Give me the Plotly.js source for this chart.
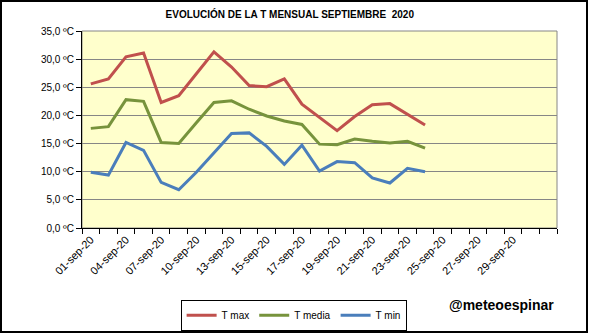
<!DOCTYPE html>
<html>
<head>
<meta charset="utf-8">
<script src="https://cdn.plot.ly/plotly-3.0.1.min.js"></script>
<style>
html,body{margin:0;padding:0;background:#fff;}
#wrap{position:relative;width:589px;height:333px;}
#chart{width:589px;height:333px;}
#frame{position:absolute;left:0;top:0;width:588px;height:333px;box-sizing:border-box;border:2px solid #000;pointer-events:none;}
</style>
</head>
<body>
<div id="wrap"><div id="chart"></div><div id="frame"></div></div>
<script>
// Categories (27 slots on the Excel category axis)
const categories = [
  "01-sep-20","02-sep-20","04-sep-20","05-sep-20","07-sep-20","08-sep-20",
  "10-sep-20","11-sep-20","13-sep-20","14-sep-20","15-sep-20","16-sep-20",
  "17-sep-20","18-sep-20","19-sep-20","20-sep-20","21-sep-20","22-sep-20",
  "23-sep-20","24-sep-20","25-sep-20","26-sep-20","27-sep-20","28-sep-20",
  "29-sep-20","30-sep-20","01-oct-20"
];
const tickLabels = ["01-sep-20","04-sep-20","07-sep-20","10-sep-20","13-sep-20","15-sep-20",
  "17-sep-20","19-sep-20","21-sep-20","23-sep-20","25-sep-20","27-sep-20","29-sep-20"];

const tMax   = [25.6, 26.5, 30.4, 31.1, 22.3, 23.5, 27.4, 31.3, 28.6, 25.3, 25.1, 26.5, 22.0, 19.7, 17.3, 19.8, 21.9, 22.1, 20.2, 18.3];
const tMedia = [17.7, 18.0, 22.8, 22.5, 15.2, 15.0, 18.7, 22.3, 22.6, 21.1, 19.9, 19.0, 18.4, 14.9, 14.8, 15.8, 15.4, 15.1, 15.4, 14.2];
const tMin   = [9.9, 9.4, 15.2, 13.8, 8.1, 6.8, 9.9, 13.3, 16.8, 16.9, 14.5, 11.3, 14.7, 10.1, 11.8, 11.6, 8.9, 8.0, 10.6, 10.0];

const seriesNames = ["T max", "T media", "T min"];
const colors = ["#C0504D", "#77933C", "#4A7EBB"];

const n = tMax.length;
const xs = categories.slice(0, n);
const traces = [tMax, tMedia, tMin].map((vals, k) => ({
  type: "scatter", mode: "lines", x: xs, y: vals, name: seriesNames[k],
  line: {color: colors[k], width: 3}, xaxis: "x", yaxis: "y"
}));
// invisible helper trace so the tick-mark axis is drawn
traces.push({type:"scatter", mode:"lines", x:[0], y:[0], xaxis:"x2", yaxis:"y",
  showlegend:false, hoverinfo:"skip", line:{width:0}, opacity:0});

const layout = {
  width: 589, height: 333,
  margin: {l: 81.7, r: 31.7, t: 30.7, b: 104.7},
  paper_bgcolor: "#ffffff",
  plot_bgcolor: "#FFFFCC",
  separators: ",.",
  font: {family: "Liberation Sans, Arial, sans-serif", size: 10, color: "#000"},
  title: {
    text: "<b>EVOLUCIÓN DE LA T MENSUAL SEPTIEMBRE  2020</b>",
    font: {family: "Liberation Sans, Arial, sans-serif", size: 10, color: "#000"},
    x: 0.492, xref: "container", xanchor: "center",
    y: 0.955, yref: "container", yanchor: "middle"
  },
  xaxis: {
    type: "category", categoryorder: "array", categoryarray: categories,
    range: [-0.5, categories.length - 0.5], automargin: false,
    tickmode: "array", tickvals: tickLabels, ticktext: tickLabels,
    tickangle: -45, ticks: "", showgrid: false, zeroline: false,
    showline: true, linecolor: "#000", linewidth: 1,
    tickfont: {size: 11, color: "#000"}, fixedrange: true
  },
  xaxis2: {
    overlaying: "x", anchor: "y", side: "bottom", type: "linear", automargin: false,
    range: [-0.5, categories.length - 0.5], tick0: -0.5, dtick: 1,
    ticks: "outside", ticklen: 5, tickcolor: "#000", tickwidth: 1,
    showticklabels: false, showgrid: false, zeroline: false, showline: false
  },
  yaxis: {
    range: [0, 35], dtick: 5, tick0: 0, tickformat: ".1f", ticksuffix: " ºC",
    ticks: "outside", ticklen: 5, tickcolor: "#000", automargin: false,
    showgrid: true, gridcolor: "#868686", gridwidth: 1,
    showline: true, linecolor: "#000", linewidth: 1, zeroline: false,
    tickfont: {size: 10, color: "#000"}
  },
  shapes: [{
    type: "rect", xref: "paper", yref: "paper", x0: 0, x1: 1, y0: 0, y1: 1,
    line: {color: "#868686", width: 1}, layer: "below"
  }],
  showlegend: true,
  legend: {
    orientation: "h", xref: "container", x: 0.4985, xanchor: "center",
    yref: "container", y: 0.053, yanchor: "middle",
    bordercolor: "#000", borderwidth: 1, bgcolor: "#fff",
    font: {size: 10, color: "#000"}, itemwidth: 30, tracegroupgap: 0
  },
  annotations: [{
    text: "<b>@meteoespinar</b>", xref: "paper", yref: "paper",
    x: 0.884, y: -0.393, xanchor: "center", yanchor: "middle", showarrow: false,
    font: {family: "Liberation Sans, Arial, sans-serif", size: 14, color: "#000"}
  }]
};

Plotly.newPlot("chart", traces, layout, {displayModeBar: false, staticPlot: true});
</script>
</body>
</html>
